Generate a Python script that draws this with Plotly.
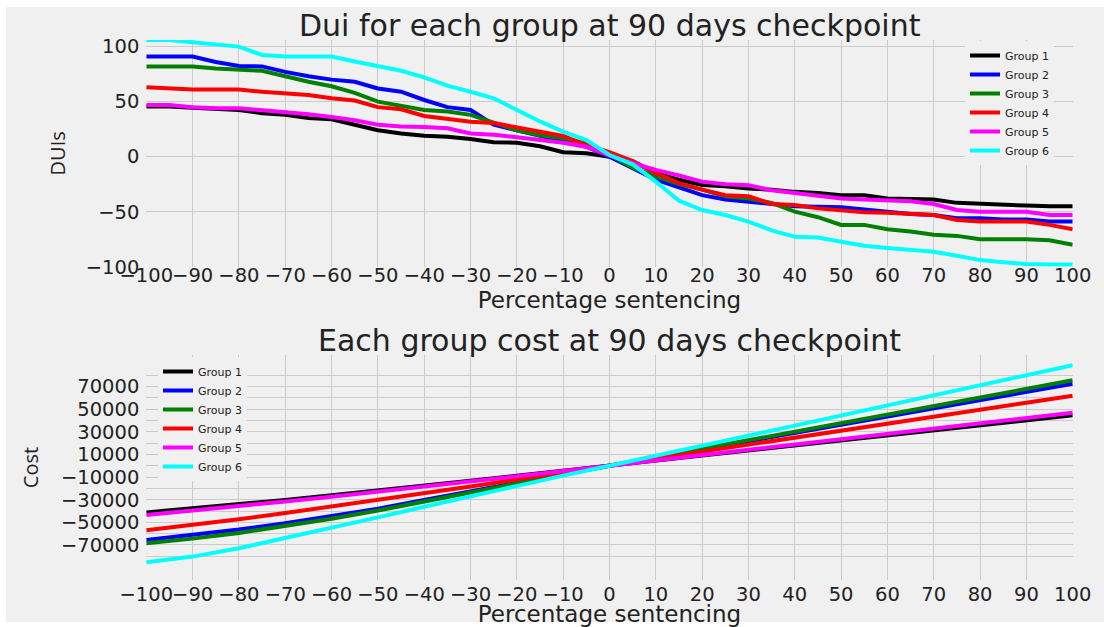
import plotly.graph_objects as go

# ---------------- data ----------------
x_pct = list(range(-100, 101, 5))
groups = ["Group 1", "Group 2", "Group 3", "Group 4", "Group 5", "Group 6"]
colors = ["#000000", "#0000ff", "#008000", "#ff0000", "#ff00ff", "#00ffff"]

dui_g1 = [45.5, 45.5, 44.5, 43.5, 42.4, 39.5, 38, 35, 34, 29, 24, 21, 19, 18, 16, 13, 12.7, 9.5, 4, 3, 0,
          -4, -15, -21, -25.8, -27, -29, -30, -32, -33, -35, -35, -38, -38.5, -39, -42, -43, -43.5, -44.5, -45, -45]
dui_g2 = [91, 91, 91, 86, 82.4, 82, 77, 73, 70, 68, 62, 59, 51.5, 45, 42.4, 29, 24, 19, 13.6, 9, 0,
          -11, -21, -28, -35, -39, -41, -43.5, -45, -45.5, -46, -48, -50, -52, -53, -56, -56, -57, -57, -59, -59]
dui_g3 = [82, 82, 82, 80, 79, 78, 73, 68, 64, 58, 50, 46, 42.4, 41, 38, 31, 24, 19.5, 16.7, 12, 2,
          -10, -18, -25, -30, -36, -38, -42, -50, -55, -62, -62, -66, -68, -71, -72, -75, -75, -75, -76, -80]
dui_g4 = [63, 62, 61, 61, 61, 59, 57.6, 56, 53, 51, 45, 43, 37, 34, 31.8, 30.5, 26.7, 23, 18.8, 10.6, 4,
          -4, -15, -24, -30, -35, -36, -43, -44, -47, -48.5, -50.5, -51, -52, -53, -57.6, -59, -59, -59, -62, -66]
dui_g5 = [47, 47, 45, 44, 44, 42.4, 41, 38.5, 36, 33, 29, 27.5, 27, 25.8, 21, 20, 17.6, 15, 12.7, 9, 1,
          -6, -12, -17, -22.7, -25, -26, -30.5, -33, -35.5, -38, -39, -40, -40.5, -43, -48.5, -50, -50, -50, -53, -53]
dui_g6 = [106, 106, 104, 102, 100, 92.4, 91, 91, 91, 86.5, 82, 78, 72, 64.5, 59, 53, 42.4, 32, 22.7, 15, 1.5,
          -7, -22.7, -40, -48.5, -53, -59, -67, -72.7, -73.5, -77.3, -81, -83, -85, -86.5, -90, -94, -96, -97.6, -98, -98]

x_cost = list(range(-100, 101, 10))
cost_g1 = [-41200, -37700, -34000, -30200, -26100, -22000, -17600, -13200, -8800, -4400, 0,
           4500, 8900, 13400, 17900, 22300, 26800, 31300, 35800, 40200, 44700]
cost_g2 = [-65600, -61300, -56400, -50700, -44500, -38000, -30200, -22500, -14900, -7400, 0,
           7260, 14520, 21780, 29040, 36300, 43560, 50820, 58080, 65340, 72600]
cost_g3 = [-68500, -64400, -59400, -53500, -46800, -39600, -31500, -23400, -15500, -7700, 0,
           7560, 15120, 22680, 30240, 37800, 45360, 52920, 60480, 68040, 75600]
cost_g4 = [-57000, -52300, -47200, -41800, -36100, -30300, -24300, -18300, -12200, -6100, 0,
           6200, 12400, 18600, 24800, 31000, 37200, 43400, 49600, 55800, 62000]
cost_g5 = [-43500, -39700, -35700, -31600, -27400, -23000, -18400, -13800, -9200, -4600, 0,
           4700, 9400, 14100, 18800, 23500, 28200, 32900, 37600, 42300, 47000]
cost_g6 = [-85200, -80300, -72900, -64100, -54700, -45600, -36200, -26800, -17500, -8700, 0,
           8900, 17800, 26700, 35600, 44500, 53400, 62300, 71200, 80100, 89000]

x_ticks = list(range(-100, 101, 10))
dui_ticks = [-100, -50, 0, 50, 100]
cost_grid = list(range(-80000, 80001, 10000))
cost_labels = [("\u2212" if v < 0 else "") + str(abs(v)) if (v // 10000) % 2 != 0 else "" for v in cost_grid]

dui_series = [dui_g1, dui_g2, dui_g3, dui_g4, dui_g5, dui_g6]
cost_series = [cost_g1, cost_g2, cost_g3, cost_g4, cost_g5, cost_g6]

# ---------------- figure ----------------
W, H = 1104, 627
BG = "#f0f0f0"
GRID = "#cbcbcb"
TXT = "#222222"

fig = go.Figure()
for name, col, ys in zip(groups, colors, dui_series):
    fig.add_trace(go.Scatter(x=x_pct, y=ys, mode="lines", name=name,
                             line=dict(color=col, width=4), xaxis="x", yaxis="y",
                             legend="legend"))
for name, col, ys in zip(groups, colors, cost_series):
    fig.add_trace(go.Scatter(x=x_cost, y=ys, mode="lines", name=name,
                             line=dict(color=col, width=4), xaxis="x2", yaxis="y2",
                             legend="legend2"))

xdom = [146.3 / W, 1072.7 / W]
top_dom = [1 - 266.7 / H, 1 - 40 / H]
bot_dom = [1 - 580 / H, 1 - 355 / H]

tickfont = dict(family="DejaVu Sans", size=19.5, color=TXT)
xtitle_font = dict(family="DejaVu Sans", size=23, color=TXT)
ytitle_font = dict(family="Open Sans", size=20, color=TXT)

common_x = dict(range=[-100, 100], tickvals=x_ticks, showgrid=True, gridcolor=GRID, gridwidth=1,
                zeroline=False, showline=False, ticks="", tickfont=tickfont, domain=xdom,
                tickangle=0, automargin=False)

fig.update_layout(
    width=W, height=H,
    margin=dict(l=0, r=0, t=0, b=0, autoexpand=False),
    paper_bgcolor="white",
    plot_bgcolor=BG,
    showlegend=True,
    xaxis=dict(common_x, anchor="y", ticklabelstandoff=-5,
               title=dict(text="Percentage sentencing", font=xtitle_font, standoff=1)),
    yaxis=dict(domain=top_dom, range=[-100, 106], tickvals=dui_ticks, showgrid=True, gridcolor=GRID,
               gridwidth=1, zeroline=False, showline=False, ticks="", tickfont=tickfont,
               ticklabelstandoff=6, anchor="x", automargin=False,
               title=dict(text="DUIs", font=ytitle_font, standoff=14)),
    xaxis2=dict(common_x, anchor="y2", ticklabelstandoff=0,
                title=dict(text="Percentage sentencing", font=xtitle_font, standoff=5)),
    yaxis2=dict(domain=bot_dom, range=[-101000, 98000], tickvals=cost_grid, ticktext=cost_labels,
                showgrid=True, gridcolor=GRID, gridwidth=1, zeroline=False, showline=False, ticks="",
                tickfont=tickfont, ticklabelstandoff=6, anchor="x2", automargin=False,
                title=dict(text="Cost", font=ytitle_font, standoff=16)),
    legend=dict(x=965 / W, y=1 - 41 / H, xanchor="left", yanchor="top", bgcolor=BG,
                borderwidth=0, font=dict(family="DejaVu Sans", size=11, color=TXT),
                tracegroupgap=0),
    legend2=dict(x=158 / W, y=1 - 357 / H, xanchor="left", yanchor="top", bgcolor=BG,
                 borderwidth=0, font=dict(family="DejaVu Sans", size=11, color=TXT),
                 tracegroupgap=0),
    annotations=[
        dict(text="Dui for each group at 90 days checkpoint", xref="paper", yref="paper",
             x=(xdom[0] + xdom[1]) / 2, y=1 - 25 / H, xanchor="center", yanchor="middle",
             showarrow=False, font=dict(family="DejaVu Sans", size=30, color=TXT)),
        dict(text="Each group cost at 90 days checkpoint", xref="paper", yref="paper",
             x=(xdom[0] + xdom[1]) / 2, y=1 - 340 / H, xanchor="center", yanchor="middle",
             showarrow=False, font=dict(family="DejaVu Sans", size=30, color=TXT)),
    ],
    shapes=[
        dict(type="rect", xref="paper", yref="paper", x0=6 / W, x1=1.0, y0=1 - 622 / H, y1=1 - 7 / H,
             fillcolor=BG, line=dict(width=0), layer="below"),
    ],
)

fig.write_html("out.html")
